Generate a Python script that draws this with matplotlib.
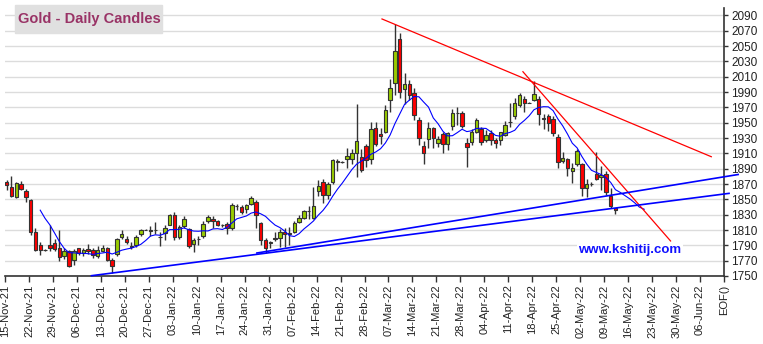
import numpy as np
import pandas as pd
import matplotlib
matplotlib.use("Agg")
import matplotlib.pyplot as plt
from matplotlib.patches import Rectangle

plt.rcParams['font.family'] = ['Liberation Sans', 'DejaVu Sans']

# daily OHLC, one entry per weekday starting Mon 15-Nov-21
opens = [1872, 1866, 1853, 1870, 1861, 1849, 1807, 1790, 1784, 1790,
         1793, 1786, 1776, 1782, 1771, 1786, 1780, 1785, 1784, 1775.5,
         1783, 1786, 1771, 1779, 1801, 1798, 1789.5, 1790, 1805, 1810.5,
         1809, 1810.5, 1800.5, 1806, 1817, 1830, 1801, 1815, 1811.5, 1791.5,
         1798, 1802, 1821.5, 1825, 1822, 1816, 1818, 1812.5, 1841, 1840,
         1837, 1844.5, 1846.5, 1818.5, 1797.5, 1792.5, 1799.5, 1800, 1807.5, 1806,
         1807.5, 1820.5, 1826, 1835, 1826, 1861, 1872, 1855.5, 1872, 1900.5,
         1899, 1903, 1902, 1911, 1905, 1919.5, 1902, 1943.5, 1935.5, 1938.5,
         1979.5, 2001.5, 2059.5, 1993.5, 2000, 1988.5, 1954, 1920, 1929, 1943,
         1923.5, 1935.5, 1922.5, 1946, 1962.5, 1962.5, 1923.5, 1924.5, 1938.5, 1941.5,
         1927, 1936.5, 1928, 1928, 1934.5, 1951, 1958.5, 1972.5, 1981.5, 1976,
         1979.5, 1981.5, 1955.5, 1958.5, 1954.5, 1931.5, 1900, 1903, 1887, 1895.5,
         1896.5, 1865, 1870, 1883, 1878.5, 1883, 1854, 1838.5]
highs = [1875, 1880, 1872, 1874, 1863, 1851, 1813, 1795, 1785, 1816,
         1798, 1810, 1787, 1784, 1785, 1787, 1787, 1792, 1786, 1789.5,
         1790, 1788, 1773, 1800, 1810, 1802.5, 1795, 1803.5, 1811.5, 1811.5,
         1815, 1821, 1808, 1817, 1831.5, 1833, 1816, 1828, 1813, 1799,
         1802, 1822, 1829, 1828, 1823.5, 1818, 1821, 1845.5, 1844.5, 1843,
         1844, 1854, 1849, 1820.5, 1799, 1796, 1807.5, 1811, 1812, 1814,
         1821.5, 1829, 1835.5, 1841, 1866, 1875, 1877, 1872.5, 1903, 1902,
         1899.5, 1917, 1916, 1974, 1916, 1922.5, 1951.5, 1950.5, 1943, 1973,
         2006.5, 2079, 2067.5, 2014.5, 2005.5, 1995, 1957, 1926, 1950.5, 1945,
         1932, 1937.5, 1938.5, 1967.5, 1970, 1965, 1930, 1941.5, 1956, 1944.5,
         1941, 1941, 1930, 1938.5, 1952, 1976, 1982.5, 1988.5, 1985, 1976.5,
         2004.5, 1985, 1961, 1961, 1958.5, 1935, 1911.5, 1904.5, 1898, 1916,
         1898, 1876, 1872, 1911.5, 1893, 1886.5, 1865, 1839]
lows = [1862, 1853, 1852, 1862, 1846, 1803, 1782, 1778, 1783, 1782,
        1782, 1770, 1772, 1762, 1765, 1778, 1776, 1779, 1774, 1773,
        1781, 1769, 1754.5, 1776.5, 1798, 1792, 1785, 1788, 1802.5, 1809.5,
        1802, 1805, 1788.5, 1797, 1816, 1797, 1798, 1812.5, 1786.5, 1781,
        1790, 1799.5, 1818.5, 1812.5, 1815, 1813.5, 1805, 1810.5, 1836, 1831.5,
        1832, 1843, 1813, 1791, 1780.5, 1786, 1795.5, 1788, 1788, 1790,
        1805.5, 1818.5, 1825, 1824, 1825, 1855, 1845.5, 1850, 1870.5, 1887,
        1898, 1891, 1896.5, 1879, 1885.5, 1892, 1896.5, 1919.5, 1922.5, 1936.5,
        1964.5, 1986, 1982, 1974.5, 1979.5, 1954, 1921, 1896.5, 1917, 1917,
        1918.5, 1910.5, 1915, 1941, 1947, 1943, 1892.5, 1921.5, 1936.5, 1921.5,
        1924.5, 1921.5, 1916.5, 1921.5, 1932.5, 1944, 1954.5, 1971, 1964, 1975.5,
        1978.5, 1946.5, 1942, 1939, 1932.5, 1891.5, 1898, 1880.5, 1871.5, 1893.5,
        1854.5, 1852.5, 1868, 1875.5, 1862.5, 1856, 1838.5, 1831]
closes = [1869, 1855, 1871, 1864, 1853, 1807, 1784, 1784, 1784, 1787,
          1785, 1775, 1782, 1762.5, 1782, 1779.5, 1784, 1783, 1778, 1784,
          1787, 1771, 1763, 1798, 1805, 1795, 1788, 1801, 1810, 1810.5,
          1809.5, 1810.5, 1800.5, 1813, 1829, 1801, 1814, 1824.5, 1789.5, 1797.5,
          1798.5, 1818, 1827, 1822, 1817, 1816, 1812.5, 1843, 1841, 1833,
          1842, 1852, 1829, 1796.5, 1786, 1794.5, 1798, 1807.5, 1805, 1805,
          1819.5, 1826, 1835, 1835, 1841, 1868, 1855.5, 1870.5, 1901, 1899,
          1898.5, 1906.5, 1910.5, 1925.5, 1888, 1901, 1942, 1922.5, 1932.5, 1966,
          1995, 2043.5, 1989.5, 2000, 1986, 1960.5, 1930, 1910.5, 1943, 1930,
          1929, 1922.5, 1936.5, 1962.5, 1962, 1946, 1918.5, 1938.5, 1953.5, 1924.5,
          1934.5, 1928, 1923.5, 1937.5, 1946.5, 1950.5, 1976, 1985.5, 1976, 1976,
          1987, 1961, 1955, 1949, 1936, 1898.5, 1904.5, 1890.5, 1891.5, 1912.5,
          1865, 1870.5, 1870, 1877, 1882, 1859, 1841, 1836.5]

week_labels = ['15-Nov-21', '22-Nov-21', '29-Nov-21', '06-Dec-21', '13-Dec-21',
               '20-Dec-21', '27-Dec-21', '03-Jan-22', '10-Jan-22', '17-Jan-22',
               '24-Jan-22', '31-Jan-22', '07-Feb-22', '14-Feb-22', '21-Feb-22',
               '28-Feb-22', '07-Mar-22', '14-Mar-22', '21-Mar-22', '28-Mar-22',
               '04-Apr-22', '11-Apr-22', '18-Apr-22', '25-Apr-22', '02-May-22',
               '09-May-22', '16-May-22', '23-May-22', '30-May-22', '06-Jun-22',
               'EOF()']
price_ticks = list(range(1750, 2091, 20))

ma_period = 8
ma_ahead = 6

# trend lines as (day, price) -> (day, price)
resistance_lines = [(78.3, 2085.3, 147.0, 1905.6),
                    (107.7, 2016.5, 138.5, 1795.7)]
support_lines = [(17.7, 1750.4, 150.7, 1857.8),
                 (52.2, 1780.0, 152.6, 1882.4)]

fig = plt.figure(figsize=(7.63, 3.44), dpi=100)
ax = fig.add_axes([5 / 763, 1 - 276 / 344, 719 / 763, 268.3 / 344])

o = np.array(opens)
h = np.array(highs)
l = np.array(lows)
c = np.array(closes)
x = np.arange(len(c))
body_col = np.where(c > o, '#99cc00', np.where(c < o, '#ff0000', '#333333'))

ax.vlines(x, l, h, color='#333333', lw=1.0, zorder=2)
ax.bar(x, c - o, bottom=o, width=0.72, color=body_col,
       edgecolor='#333333', linewidth=0.8, zorder=3)

# moving average, run a few sessions ahead holding the last close
padded = pd.Series(closes + [closes[-1]] * ma_ahead)
ma = padded.rolling(ma_period).mean()
ax.plot(np.arange(len(padded)), ma, color='#0000ff', lw=0.8, zorder=4)

for x0, y0, x1, y1 in resistance_lines:
    ax.plot([x0, x1], [y0, y1], color='#ff0000', lw=0.9, zorder=5, clip_on=False)
for x0, y0, x1, y1 in support_lines:
    ax.plot([x0, x1], [y0, y1], color='#0000ff', lw=1.2, zorder=5, clip_on=False)

ax.set_xlim(-0.35, 149.65)
ax.set_ylim(1750, 2100)
ax.set_xticks(np.arange(len(week_labels)) * 5 - 0.35)
ax.set_xticklabels(week_labels, rotation=90, fontsize=8, color='#222222')
ax.set_yticks(price_ticks)
ax.set_yticklabels([str(p) for p in price_ticks], fontsize=8.5, color='#222222')
ax.yaxis.tick_right()
ax.tick_params(axis='x', length=4, width=1, color='#333333', pad=2)
ax.tick_params(axis='y', length=3, width=1, color='#333333', pad=2)
for side in ['left', 'top']:
    ax.spines[side].set_visible(False)
for side in ['bottom', 'right']:
    ax.spines[side].set_color('#333333')
    ax.spines[side].set_linewidth(1.2)
ax.grid(axis='y', color='#dcdcdc', lw=1.0)
ax.set_axisbelow(True)

ax.text(130.0, 1784, 'www.kshitij.com', color='#1010ff', fontsize=9.5,
        fontweight='bold', ha='center', va='center', zorder=6,
        bbox=dict(facecolor='white', edgecolor='none', pad=1))

fig.patches.append(Rectangle((15 / 763, 1 - 33 / 344), 147 / 763, 28 / 344,
                             transform=fig.transFigure, color='#e0e0e0', zorder=0))
fig.text(18 / 763, 1 - 19.5 / 344, 'Gold - Daily Candles', fontsize=10.5,
         fontweight='bold', color='#993366', va='center')

fig.savefig('out.png', dpi=100)
